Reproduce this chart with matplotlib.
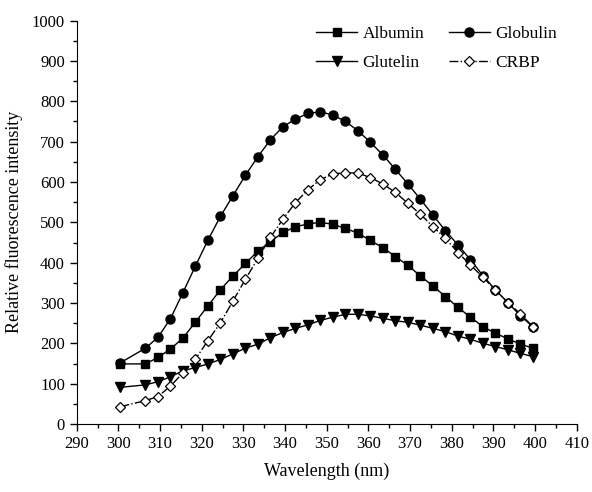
import numpy as np
import matplotlib.pyplot as plt
from matplotlib.ticker import MultipleLocator

plt.rcParams['font.family'] = ['Liberation Serif', 'DejaVu Serif']

# wavelength (nm)
wavelength = [300.5, 306.5] + [309.5 + 3 * i for i in range(31)]

albumin = [149, 149, 165, 186, 213, 253, 293, 333, 367, 398, 429, 452, 475, 489,
           496, 500, 495, 485, 473, 455, 437, 415, 393, 367, 342, 316, 289, 265,
           241, 225, 211, 198, 188]
globulin = [152, 188, 215, 261, 326, 392, 456, 515, 566, 617, 663, 705, 737, 756,
            770, 774, 766, 750, 727, 698, 667, 631, 595, 557, 518, 479, 444, 407,
            368, 332, 301, 268, 241]
glutelin = [91, 97, 105, 117, 132, 140, 149, 160, 174, 188, 198, 214, 227, 237,
            246, 257, 265, 272, 272, 268, 262, 256, 252, 245, 237, 229, 218, 210,
            200, 192, 184, 175, 167]
crbp = [43, 58, 68, 94, 127, 161, 207, 251, 305, 359, 411, 463, 508, 549,
        581, 606, 620, 623, 622, 611, 595, 574, 547, 520, 489, 460, 425, 394,
        364, 332, 301, 273, 241]

fig = plt.figure(figsize=(5.92, 4.92), dpi=100)
ax = fig.add_axes([0.1296, 0.1382, 0.8446, 0.8198])

h_alb, = ax.plot(wavelength, albumin, color='black', lw=1, marker='s', ms=6, label='Albumin')
h_glo, = ax.plot(wavelength, globulin, color='black', lw=1, marker='o', ms=6.5, label='Globulin')
h_glu, = ax.plot(wavelength, glutelin, color='black', lw=1, marker='v', ms=7, label='Glutelin')
h_crb, = ax.plot(wavelength, crbp, color='black', lw=1, ls='-.', marker='D', ms=5,
                 mfc='white', mec='black', mew=0.9, label='CRBP')

ax.set_xlim(290, 410)
ax.set_ylim(0, 1000)
ax.xaxis.set_major_locator(MultipleLocator(10))
ax.xaxis.set_minor_locator(MultipleLocator(5))
ax.yaxis.set_major_locator(MultipleLocator(100))
ax.yaxis.set_minor_locator(MultipleLocator(50))

for side in ['top', 'right']:
    ax.spines[side].set_visible(False)
ax.tick_params(which='both', direction='out', labelsize=12, width=1)
ax.tick_params(which='major', length=5)
ax.tick_params(which='minor', length=3)

ax.set_xlabel('Wavelength (nm)', fontsize=13, labelpad=8)
ax.set_ylabel('Relative fluorescence intensity', fontsize=13, labelpad=6)

# column-wise fill: Albumin/Glutelin in the first column, Globulin/CRBP in the second
ax.legend([h_alb, h_glu, h_glo, h_crb], ['Albumin', 'Glutelin', 'Globulin', 'CRBP'],
          ncol=2, frameon=False, fontsize=12.5, loc='upper right',
          bbox_to_anchor=(0.975, 1.005), borderaxespad=0, handlelength=2.4,
          columnspacing=1.4, handletextpad=0.3, labelspacing=0.75)

fig.savefig('out.png', dpi=100)
